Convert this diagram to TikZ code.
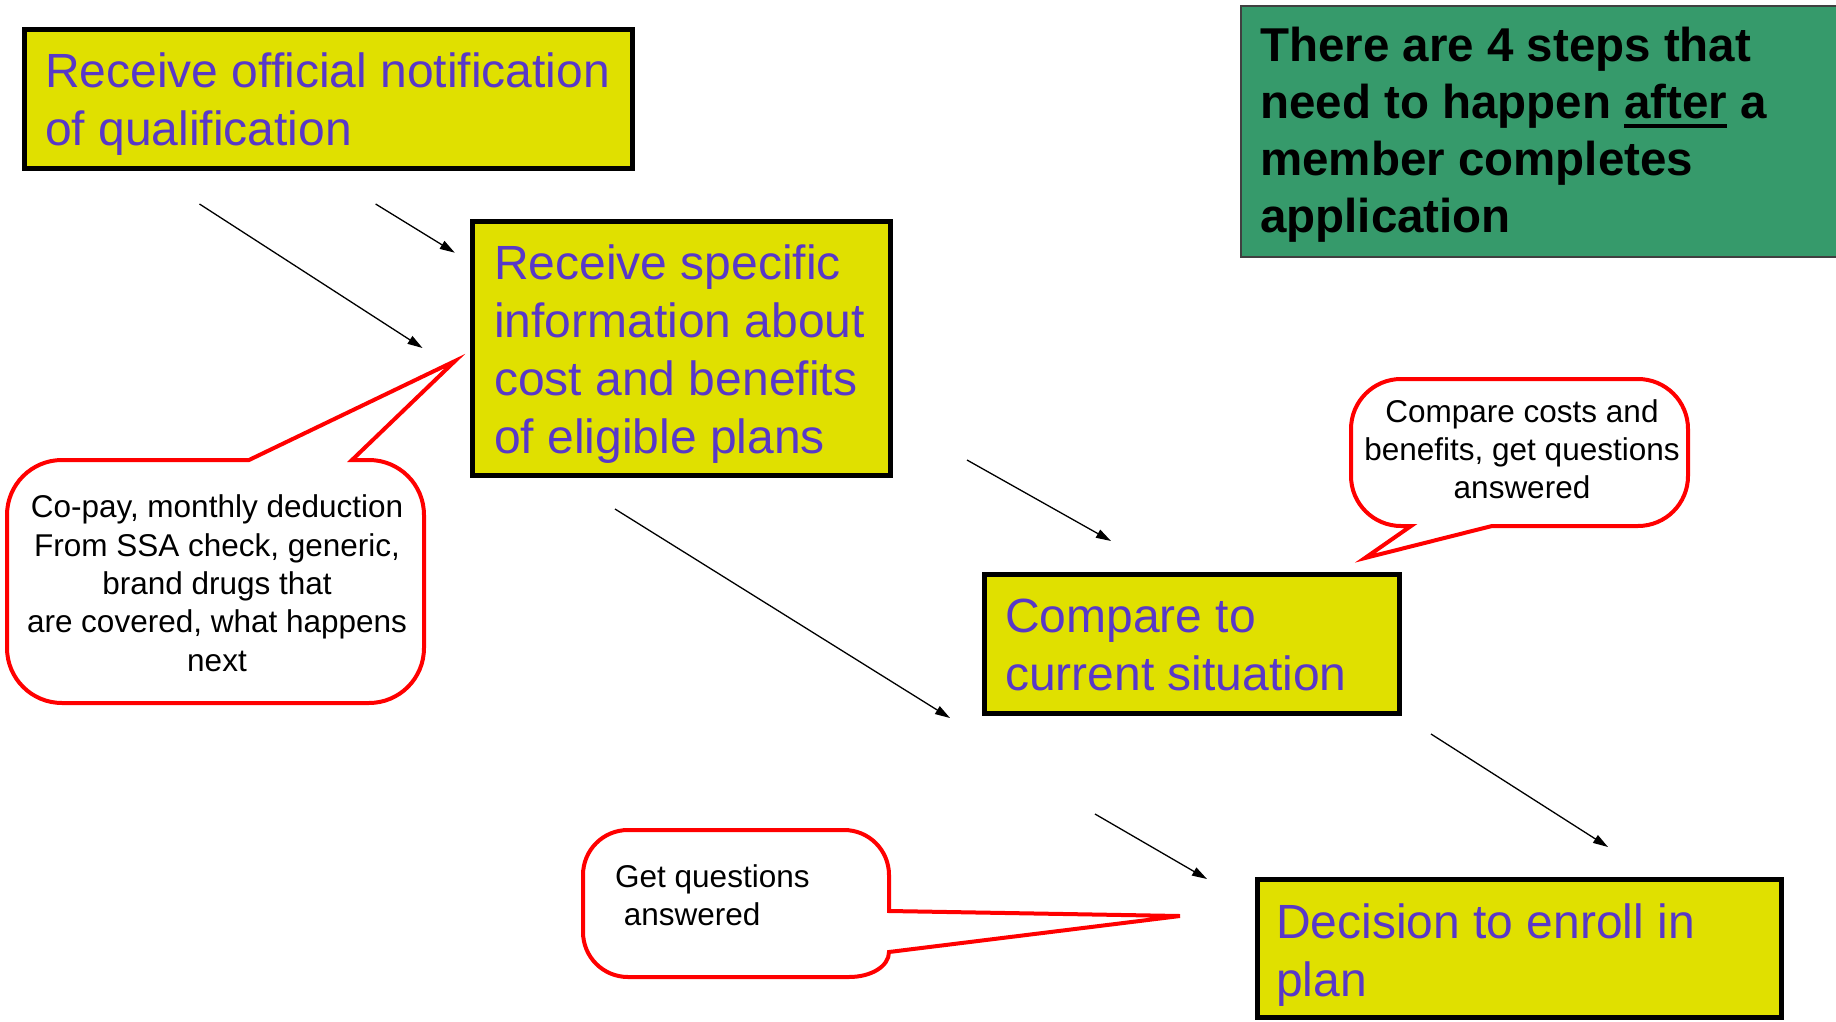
\documentclass[tikz,border=0pt]{standalone}
\usepackage{fontspec}
\setmainfont{Liberation Sans}
\usetikzlibrary{arrows.meta}
\definecolor{boxyellow}{RGB}{224,224,0}
\definecolor{boxtext}{RGB}{88,56,200}
\definecolor{notegreen}{RGB}{54,154,107}
\definecolor{calloutred}{RGB}{255,0,0}
\def\mylinesl#1{\vtop{\halign{##\hfil\cr#1\crcr}}}
\def\mylinesc#1{\vtop{\halign{\hfil##\hfil\cr#1\crcr}}}
\newcommand\myul[1]{\setbox0\hbox{#1}\rlap{\rule[-9pt]{\wd0}{3.5pt}}\box0\relax}
\tikzset{
  stepbox/.style={draw=black, line width=5pt, fill=boxyellow, inner sep=0pt},
  notebox/.style={draw=black!75, line width=2pt, fill=notegreen, inner sep=0pt},
  boxtxt/.style={text=boxtext, inner sep=0pt, anchor=base west, font=\fontsize{48}{58}\selectfont},
  bigtxt/.style={text=black, inner sep=0pt, anchor=base west, font=\fontsize{47.5}{57}\selectfont\bfseries},
  smalltxt/.style={text=black, inner sep=0pt, font=\fontsize{31.5}{38.4}\selectfont},
  callout/.style={draw=calloutred, line width=4pt, fill=white, line join=miter},
  flow/.style={line width=1.3pt, -{Triangle[length=15pt,width=9pt]}}
}
\begin{document}
\begin{tikzpicture}[x=1pt, y=-1pt]
\useasboundingbox (0,0) rectangle (1836,1022);
\fill[white] (0,0) rectangle (1836,1022);

% green note
\node[notebox, anchor=north west, minimum width=620pt, minimum height=251pt] (g) at (1240,5) {};
\node[bigtxt] (gt) at (1260,62) {\mylinesl{There are 4 steps that\cr need to happen \myul{after} a\cr member completes\cr application}};

% step boxes
\node[stepbox, minimum width=608pt, minimum height=139pt] (b1) at (328.5,99) {};
\node[boxtxt] (t1) at (45,88) {\mylinesl{Receive official notification\cr of qualification}};

\node[stepbox, minimum width=418pt, minimum height=254pt] (b2) at (681.5,348.5) {};
\node[boxtxt] (t2) at (494,279) {\mylinesl{Receive specific\cr information about\cr cost and benefits\cr of eligible plans}};

\node[stepbox, minimum width=415pt, minimum height=139pt] (b3) at (1192,644) {};
\node[boxtxt] (t3) at (1005,632) {\mylinesl{Compare to\cr current situation}};

\node[stepbox, minimum width=524pt, minimum height=138pt] (b4) at (1519.5,948.5) {};
\node[boxtxt] (t4) at (1276,938) {\mylinesl{Decision to enroll in\cr plan}};

% callouts
\draw[callout] (352,460) -- (369,460) .. controls (399.4,460) and (424,484.6) .. (424,515)
  -- (424,648) .. controls (424,678.4) and (399.4,703) .. (369,703)
  -- (62,703) .. controls (31.6,703) and (7,678.4) .. (7,648)
  -- (7,515) .. controls (7,484.6) and (31.6,460) .. (62,460)
  -- (249,460) -- (455,361) -- cycle;
\node[smalltxt, anchor=base] (c1t) at (217,517.6) {\mylinesc{Co-pay, monthly deduction\cr From SSA check, generic,\cr brand drugs that\cr are covered, what happens\cr next}};

\draw[callout] (1411,526) -- (1401,526) .. controls (1373.4,526) and (1351,503.6) .. (1351,476)
  -- (1351,429) .. controls (1351,401.4) and (1373.4,379) .. (1401,379)
  -- (1638,379) .. controls (1665.6,379) and (1688,401.4) .. (1688,429)
  -- (1688,476) .. controls (1688,503.6) and (1665.6,526) .. (1638,526)
  -- (1492,526) -- (1365,558) -- cycle;
\node[smalltxt, anchor=base] (c2t) at (1522,422) {\mylinesc{Compare costs and\cr benefits, get questions\cr answered}};

\draw[callout] (889,952) .. controls (889,966.3) and (871.1,977) .. (849,977)
  -- (628,977) .. controls (603.1,977) and (583,956.9) .. (583,932)
  -- (583,875) .. controls (583,850.1) and (603.1,830) .. (628,830)
  -- (844,830) .. controls (868.9,830) and (889,850.1) .. (889,875)
  -- (889,911) -- (1180,916) -- cycle;
\node[smalltxt, anchor=base west] (c3t) at (615,887) {\mylinesl{Get questions\cr\ answered}};

% arrows
\coordinate (a1s) at (199.5,204);  \coordinate (a1e) at (422.5,348);
\coordinate (a2s) at (375.6,204);  \coordinate (a2e) at (454.8,252.7);
\coordinate (a3s) at (967,460);    \coordinate (a3e) at (1111,541);
\coordinate (a4s) at (615,509);    \coordinate (a4e) at (950,718);
\coordinate (a5s) at (1431,734);   \coordinate (a5e) at (1608,847);
\coordinate (a6s) at (1095,814);   \coordinate (a6e) at (1207,879);
\draw[flow] (a1s) -- (a1e);
\draw[flow] (a2s) -- (a2e);
\draw[flow] (a3s) -- (a3e);
\draw[flow] (a4s) -- (a4e);
\draw[flow] (a5s) -- (a5e);
\draw[flow] (a6s) -- (a6e);
\end{tikzpicture}
\end{document}
